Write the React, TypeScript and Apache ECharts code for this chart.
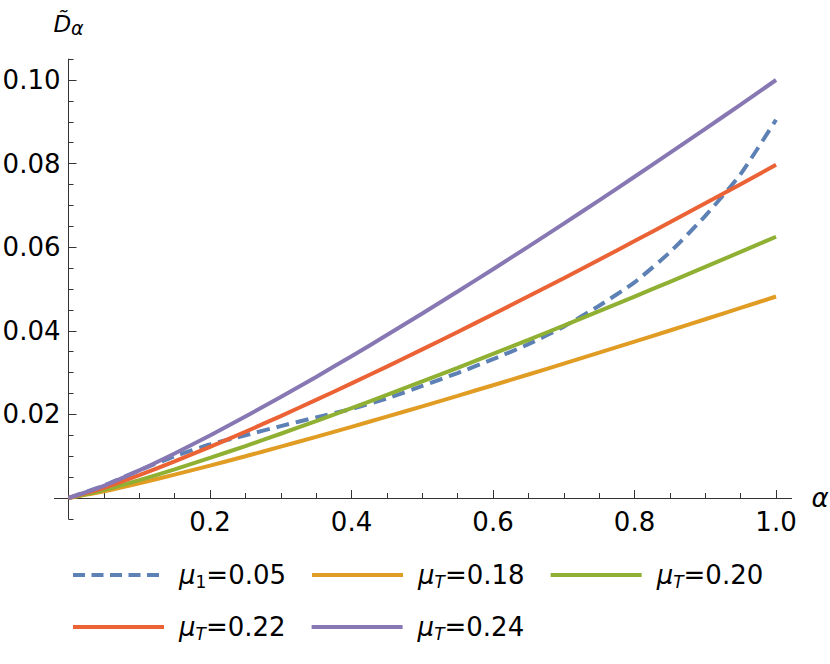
import React, { useEffect, useRef } from 'react';
import * as echarts from 'echarts';

const alpha = [0, 0.05, 0.1, 0.15, 0.2, 0.25, 0.3, 0.35, 0.4, 0.45, 0.5, 0.55, 0.6, 0.65, 0.7, 0.75, 0.8, 0.85, 0.9, 0.95, 1.0];

const seriesNames = ['μ1=0.05', 'μT=0.18', 'μT=0.20', 'μT=0.22', 'μT=0.24'];
const seriesColors = ['#5E81B5', '#E19C24', '#8FB032', '#EB6235', '#8778B3'];

const mu1_005 = [0, 0.0030, 0.0066, 0.0100, 0.0128, 0.0150, 0.0172, 0.0193, 0.0213, 0.0238, 0.0268, 0.0299, 0.0332, 0.0368, 0.0410, 0.0460, 0.0516, 0.0588, 0.0675, 0.0775, 0.0905];
const muT_018 = [0, 0.0016, 0.00352, 0.00559, 0.00775, 0.00998, 0.01228, 0.01462, 0.01702, 0.01946, 0.02193, 0.02444, 0.02698, 0.02955, 0.03214, 0.03476, 0.03741, 0.04007, 0.04276, 0.04547, 0.0482];
const muT_020 = [0, 0.00191, 0.00427, 0.00686, 0.00959, 0.01243, 0.01537, 0.01839, 0.02149, 0.02465, 0.02788, 0.03115, 0.03447, 0.03784, 0.04124, 0.0447, 0.04819, 0.05172, 0.05528, 0.05888, 0.0625];
const muT_022 = [0, 0.00243, 0.00545, 0.00874, 0.01223, 0.01585, 0.0196, 0.02346, 0.02741, 0.03143, 0.03555, 0.03972, 0.04395, 0.04825, 0.05259, 0.057, 0.06146, 0.06595, 0.07049, 0.07508, 0.0797];
const muT_024 = [0, 0.00292, 0.00661, 0.01066, 0.01497, 0.01948, 0.02415, 0.02897, 0.03392, 0.03898, 0.04414, 0.04939, 0.05473, 0.06015, 0.06565, 0.07121, 0.07685, 0.08255, 0.0883, 0.09413, 0.1];

const xMajorTicks = [0.2, 0.4, 0.6, 0.8, 1.0];
const xMinorTicks = [0.05, 0.1, 0.15, 0.25, 0.3, 0.35, 0.45, 0.5, 0.55, 0.65, 0.7, 0.75, 0.85, 0.9, 0.95];
const yMajorTicks = [0.02, 0.04, 0.06, 0.08, 0.1];
const yMinorTicks = [-0.005, 0.005, 0.01, 0.015, 0.025, 0.03, 0.035, 0.045, 0.05, 0.055, 0.065, 0.07, 0.075, 0.085, 0.09, 0.095, 0.105];

const FONT = 'DejaVu Sans';
const AXIS_COLOR = '#333333';

export default function App() {
  const ref = useRef<HTMLDivElement>(null);

  useEffect(() => {
    document.body.style.margin = '0';
    if (!ref.current) return;
    const chart = echarts.init(ref.current, null, { renderer: 'svg' });

    const values = [mu1_005, muT_018, muT_020, muT_022, muT_024];
    const xMin = -0.02, xMax = 1.022, yMin = -0.005, yMax = 0.105;
    const gridLeft = 54.35, gridRight = 791.6, gridTop = 59.1, gridBottom = 518.9;
    // pixel offsets of the zero lines from the grid edges
    const xZeroOffset = (0 - xMin) / (xMax - xMin) * (gridRight - gridLeft);
    const yZeroOffset = (0 - yMin) / (yMax - yMin) * (gridBottom - gridTop);

    const baseX = {
      type: 'value',
      min: xMin,
      max: xMax,
      position: 'bottom',
      splitLine: { show: false },
    };
    const baseY = {
      type: 'value',
      min: yMin,
      max: yMax,
      position: 'left',
      splitLine: { show: false },
    };

    const series = values.map((vals, i) => ({
      name: seriesNames[i],
      type: 'line',
      xAxisIndex: 0,
      yAxisIndex: 0,
      data: alpha.map((a, j) => [a, vals[j]]),
      symbol: 'none',
      smooth: 0.2,
      lineStyle: {
        color: seriesColors[i],
        width: 4,
        type: i === 0 ? [13, 7] : 'solid',
        cap: 'butt',
      },
      itemStyle: { color: seriesColors[i] },
      z: 2 + i,
    }));

    const option = {
      animation: false,
      backgroundColor: '#ffffff',
      textStyle: { fontFamily: FONT },
      grid: {
        left: gridLeft,
        right: 830 - gridRight,
        top: gridTop,
        bottom: 664 - gridBottom,
        containLabel: false,
        outerBoundsMode: 'none',
      },
      legend: {
        left: 71,
        top: 562,
        width: 700,
        padding: 0,
        orient: 'horizontal',
        itemWidth: 91,
        itemHeight: 14,
        itemGap: 24,
        selectedMode: false,
        itemStyle: { opacity: 0 },
        lineStyle: { width: 4 },
        data: seriesNames.map((n, i) =>
          i === 0 ? { name: n, lineStyle: { type: [12, 6.5], width: 4 } } : { name: n }
        ),
        formatter: (name: string) => {
          const sub = name.charAt(1);
          const rest = name.slice(2);
          return `{mu|μ}{${sub === 'T' ? 'subT' : 'sub1'}|${sub}}{val|${rest}}`;
        },
        textStyle: {
          fontFamily: FONT,
          fontSize: 26,
          color: '#000',
          padding: [0, 0, 0, 10],
          rich: {
            mu: { fontFamily: FONT, fontSize: 26, fontStyle: 'italic', lineHeight: 30, color: '#000' },
            subT: { fontFamily: FONT, fontSize: 17, fontStyle: 'italic', lineHeight: 14, verticalAlign: 'bottom', color: '#000' },
            sub1: { fontFamily: FONT, fontSize: 17, lineHeight: 14, verticalAlign: 'bottom', color: '#000' },
            val: { fontFamily: FONT, fontSize: 26, lineHeight: 30, color: '#000' },
          },
        },
      },
      xAxis: [
        {
          ...baseX,
          name: 'α',
          nameLocation: 'end',
          nameGap: 20,
          nameTextStyle: { fontFamily: FONT, fontSize: 26, fontStyle: 'italic', color: '#000', verticalAlign: 'middle' },
          axisLine: { show: true, onZero: true, lineStyle: { color: AXIS_COLOR, width: 1 } },
          axisTick: { show: true, inside: true, length: 8, customValues: xMajorTicks, lineStyle: { color: AXIS_COLOR, width: 1 } },
          axisLabel: {
            show: true,
            customValues: xMajorTicks,
            margin: 11 - yZeroOffset,
            fontFamily: FONT,
            fontSize: 26,
            color: '#000',
            formatter: (v: number) => v.toFixed(1),
          },
        },
        {
          ...baseX,
          axisLine: { show: true, onZero: true, lineStyle: { color: AXIS_COLOR, width: 0, opacity: 0 } },
          axisTick: { show: true, inside: true, length: 5, customValues: xMinorTicks, lineStyle: { color: AXIS_COLOR, width: 1 } },
          axisLabel: { show: false },
        },
      ],
      yAxis: [
        {
          ...baseY,
          name: '{d|D̃}{s|α}',
          nameLocation: 'end',
          nameGap: 22,
          nameTextStyle: {
            fontFamily: FONT,
            color: '#000',
            rich: {
              d: { fontFamily: FONT, fontSize: 23, fontStyle: 'italic', lineHeight: 27, color: '#000' },
              s: { fontFamily: FONT, fontSize: 19, fontStyle: 'italic', lineHeight: 13, verticalAlign: 'bottom', color: '#000' },
            },
          },
          axisLine: { show: true, onZero: true, lineStyle: { color: AXIS_COLOR, width: 1 } },
          axisTick: { show: true, inside: true, length: 8, customValues: yMajorTicks, lineStyle: { color: AXIS_COLOR, width: 1 } },
          axisLabel: {
            show: true,
            customValues: yMajorTicks,
            margin: 8 - xZeroOffset,
            fontFamily: FONT,
            fontSize: 26,
            color: '#000',
            formatter: (v: number) => v.toFixed(2),
          },
        },
        {
          ...baseY,
          axisLine: { show: true, onZero: true, lineStyle: { color: AXIS_COLOR, width: 0, opacity: 0 } },
          axisTick: { show: true, inside: true, length: 5, customValues: yMinorTicks, lineStyle: { color: AXIS_COLOR, width: 1 } },
          axisLabel: { show: false },
        },
      ],
      series,
    };

    chart.setOption(option as any);
    return () => {
      chart.dispose();
    };
  }, []);

  return <div ref={ref} style={{ width: 830, height: 664 }} />;
}
